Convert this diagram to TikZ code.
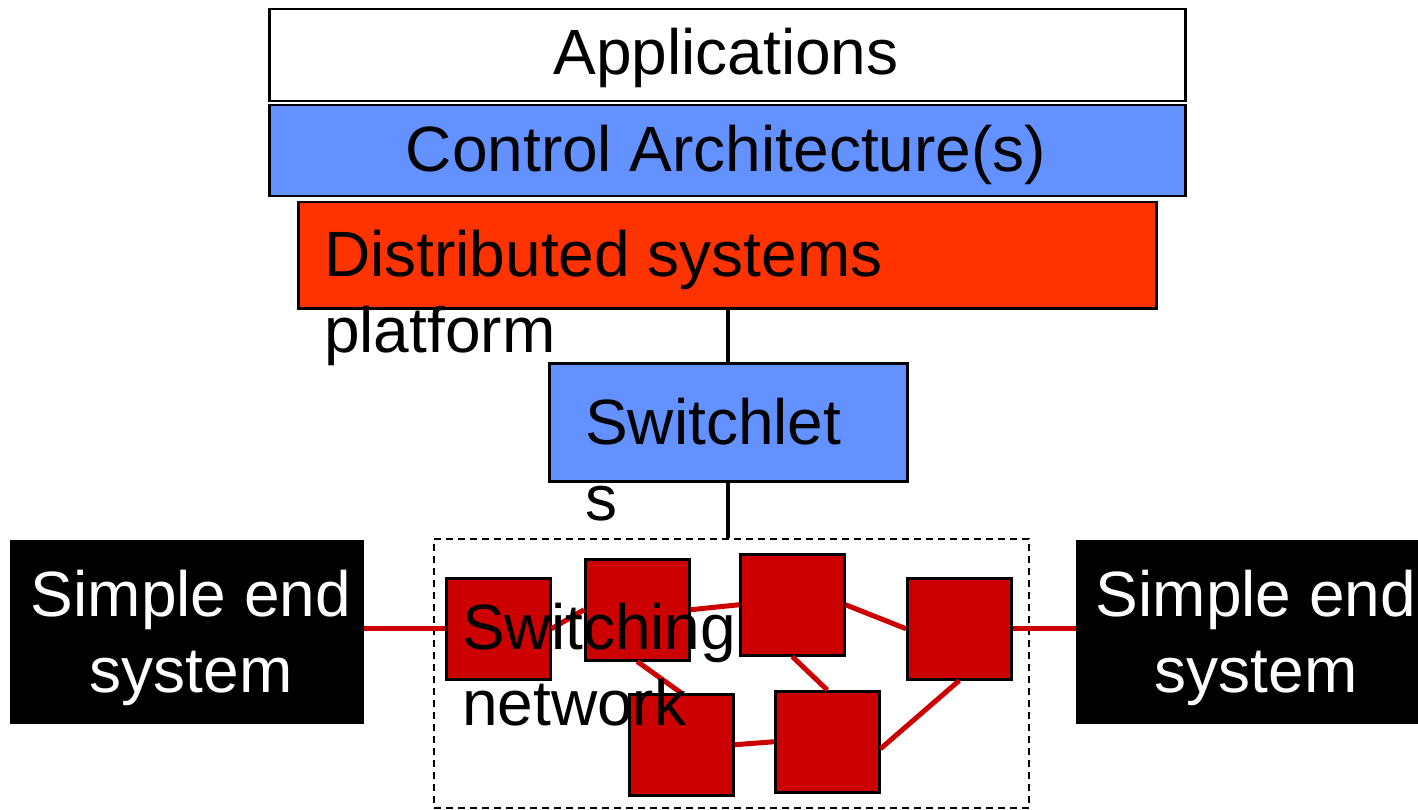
\documentclass[tikz,border=0pt]{standalone}
\usepackage{fontspec}
\setmainfont{Liberation Sans}
\definecolor{layerblue}{RGB}{99,145,255}
\definecolor{platred}{RGB}{255,51,0}
\definecolor{switchred}{RGB}{204,0,0}
\begin{document}
\begin{tikzpicture}[x=1pt,y=-1pt,
  every node/.style={font=\fontsize{64}{76}\selectfont},
  layer/.style={draw=black,line width=2.5pt,anchor=north west,inner sep=0pt},
  label/.style={anchor=base west,inner sep=0pt,align=left},
  endsys/.style={fill=black,anchor=north west,inner sep=0pt,minimum width=354pt,minimum height=184pt},
  switchbox/.style={draw=black,line width=2.5pt,fill=switchred,anchor=north west,inner sep=0pt,minimum width=104pt,minimum height=101pt},
  link/.style={draw=switchred,line width=5pt},
  stem/.style={draw=black,line width=4pt}]
\useasboundingbox (0,0) rectangle (1418,810);
\clip (0,0) rectangle (1418,810);

% protocol stack
\node[layer,fill=white,minimum width=916pt,minimum height=92pt] (app) at (268,8) {};
\node[inner sep=0pt,anchor=base] (apptext) at (726,75) {Applications};
\node[layer,fill=layerblue,minimum width=916pt,minimum height=91pt] (ctrl) at (268,104) {};
\node[inner sep=0pt,anchor=base] (ctrltext) at (726,172) {Control Architecture(s)};
\node[layer,fill=platred,minimum width=858pt,minimum height=106pt] (dist) at (297,201) {};
% multi-line labels: the base anchor sits on the last line
\node[label] (disttext) at (324,352) {Distributed systems\\platform};

% switchlets
\node[layer,fill=layerblue,minimum width=358pt,minimum height=118pt] (swl) at (548,362) {};
\node[label] (swltext) at (585,520) {Switchlet\\s};

% switching network
\node[draw=black,line width=2pt,dash pattern=on 7pt off 5pt,anchor=north west,inner sep=0pt,minimum width=595pt,minimum height=269pt] (net) at (433,538) {};
\draw[stem] (swl.north |- dist.south) -- (swl.north);
\draw[stem] (swl.south) -- (swl.south |- net.north);

\node[switchbox] (s1) at (445,577) {};
\node[switchbox] (s2) at (584,558) {};
\node[switchbox] (s3) at (739,553) {};
\node[switchbox] (s4) at (906,577) {};
\node[switchbox] (s5) at (628,693) {};
\node[switchbox] (s6) at (774,690) {};

% end systems
\node[endsys] (left) at (10,540) {};
\node[endsys] (right) at (1076,540) {};
\node[inner sep=0pt,anchor=base,text=white,align=center] (lefttext) at (191,692) {Simple end\\system};
\node[inner sep=0pt,anchor=base,text=white,align=center] (righttext) at (1256,692) {Simple end\\system};

% links
\draw[link] (left.east |- s1.west) -- (s1.west);
\draw[link] (s1.east) -- (s2.west);
\draw[link] (s2.east) -- (s3.west);
\draw[link] (s3.east) -- (s4.west);
\draw[link] (s2.south) -- (s5.north);
\draw[link] (s3.south) -- (s6.north);
\draw[link] (s5.east) -- (s6.west);
\draw[link] ([yshift=-7pt]s6.east) -- (s4.south);
\draw[link] (s4.east) -- (s4.east -| right.west);

\node[label] (nettext) at (462,725) {Switching\\network};
\end{tikzpicture}
\end{document}
